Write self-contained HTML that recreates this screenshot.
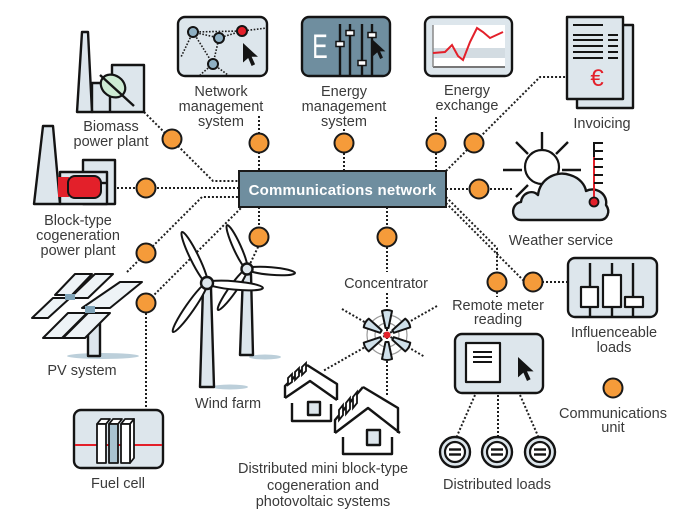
<!DOCTYPE html>
<html><head><meta charset="utf-8">
<style>
html,body{margin:0;padding:0;background:#fff;}
svg{display:block;}
text{font-family:"Liberation Sans",sans-serif;font-size:14.5px;fill:#3a3a3a;text-anchor:middle;}
.dot{stroke:#1e1e1e;stroke-width:2;stroke-dasharray:2 2;fill:none;}
.ln{stroke:#141414;stroke-width:2.4;fill:none;stroke-linejoin:round;}
.lf{fill:#dde6ec;stroke:#141414;stroke-width:2.4;stroke-linejoin:round;}
.wf{fill:#fff;stroke:#141414;stroke-width:2.2;stroke-linejoin:round;}
.cu{fill:#f59b3a;stroke:#1a1a1a;stroke-width:2;}
</style></head><body>
<svg width="687" height="520" viewBox="0 0 687 520" xmlns="http://www.w3.org/2000/svg">
<defs>
<path id="cur" d="M0,0 L0,17 L4.5,13 L7.5,20 L10.5,18.5 L7.5,12 L13,12 Z"/>
</defs>

<!-- connectors -->
<path class="dot" d="M259,116 V171"/>
<path class="dot" d="M344,129 V171"/>
<path class="dot" d="M436,117 V171"/>
<path class="dot" d="M446,171 L540,77 H566"/>
<path class="dot" d="M446,189 H512"/>
<path class="dot" d="M144,112 L213,181 H239"/>
<path class="dot" d="M117,188 H239"/>
<path class="dot" d="M127,272 L202,197 H239"/>
<path class="dot" d="M146,407 V303 L242,207"/>
<path class="dot" d="M259,207 V245 L249,266"/>
<path class="dot" d="M387,207 V272"/>
<path class="dot" d="M387,293 V397"/>
<path class="dot" d="M342,309 L425,357"/>
<path class="dot" d="M437,306 L323,371"/>
<path class="dot" d="M446,197 L497,248 V297"/>
<path class="dot" d="M446,203 L525,282"/>
<path class="dot" d="M542,282 H567"/>
<path class="dot" d="M475,395 L457,436"/>
<path class="dot" d="M498,395 V436"/>
<path class="dot" d="M520,395 L538,436"/>

<!-- Communications network box -->
<rect x="239" y="171" width="207" height="36" fill="#6f8e9f" stroke="#1a1a1a" stroke-width="2"/>
<text x="342.5" y="195" style="fill:#fff;font-weight:bold;font-size:15px;letter-spacing:0.2px">Communications network</text>

<!-- Network management system -->
<rect x="178" y="17" width="89" height="59" rx="7" class="lf"/>
<g stroke="#1e1e1e" stroke-width="1.6" stroke-dasharray="1.6 1.6" fill="none">
<path d="M193,32 L242,31 L267,28"/>
<path d="M193,32 L181,57"/>
<path d="M193,32 L219,38 L242,31"/>
<path d="M193,32 L213,64 L219,38"/>
<path d="M213,64 L200,75"/>
<path d="M213,64 L228,75"/>
</g>
<g stroke="#141414" stroke-width="2">
<circle cx="193" cy="32" r="5" fill="#8fb0c3"/>
<circle cx="219" cy="38" r="5" fill="#8fb0c3"/>
<circle cx="213" cy="64" r="5" fill="#8fb0c3"/>
<circle cx="242" cy="31" r="5" fill="#e3202a"/>
</g>
<use href="#cur" transform="translate(243,43) scale(1.15)" fill="#141414"/>
<text x="221" y="96">Network</text>
<text x="221" y="111">management</text>
<text x="221" y="126">system</text>

<!-- Energy management system -->
<rect x="302" y="17" width="88" height="59" rx="7" fill="#6f8e9f" stroke="#141414" stroke-width="2.4"/>
<text transform="translate(320,58) scale(0.68,1)" style="fill:#fff;font-size:34px">E</text>
<g stroke="#141414" stroke-width="2.4">
<line x1="340" y1="24" x2="340" y2="76"/>
<line x1="350" y1="24" x2="350" y2="76"/>
<line x1="362" y1="24" x2="362" y2="76"/>
<line x1="372" y1="24" x2="372" y2="76"/>
</g>
<g fill="#fff" stroke="#141414" stroke-width="1.5">
<rect x="336" y="41.5" width="8" height="5"/>
<rect x="346" y="30.5" width="8" height="5"/>
<rect x="358" y="60.5" width="8" height="5"/>
<rect x="368" y="32.5" width="8" height="5"/>
</g>
<use href="#cur" transform="translate(373,40) scale(0.95)" fill="#141414"/>
<text x="344" y="96">Energy</text>
<text x="344" y="111">management</text>
<text x="344" y="126">system</text>

<!-- Energy exchange -->
<rect x="425" y="17" width="87" height="59" rx="7" class="lf"/>
<rect x="433" y="25" width="72" height="42" fill="#fff"/>
<rect x="433" y="48" width="72" height="10" fill="#d3dce2"/>
<line x1="433" y1="67" x2="505" y2="67" stroke="#777" stroke-width="2"/>
<line x1="433" y1="25" x2="433" y2="67" stroke="#888" stroke-width="1.5"/>
<polyline points="433,53 445,52 452,45 458,56 463,60 470,42 477,28 483,32 490,38 503,32" fill="none" stroke="#e3202a" stroke-width="2"/>
<text x="467" y="95">Energy</text>
<text x="467" y="110">exchange</text>

<!-- Invoicing -->
<rect x="577" y="25" width="56" height="83" class="lf"/>
<rect x="567" y="17" width="56" height="82" class="lf"/>
<g stroke="#141414" stroke-width="2">
<line x1="573" y1="25" x2="603" y2="25"/>
<line x1="573" y1="35" x2="603" y2="35"/><line x1="608" y1="35" x2="618" y2="35"/>
<line x1="573" y1="40" x2="603" y2="40"/><line x1="608" y1="40" x2="618" y2="40"/>
<line x1="573" y1="46" x2="603" y2="46"/><line x1="608" y1="46" x2="618" y2="46"/>
<line x1="573" y1="52" x2="603" y2="52"/><line x1="608" y1="52" x2="618" y2="52"/>
<line x1="573" y1="58" x2="603" y2="58"/><line x1="608" y1="58" x2="618" y2="58"/>
</g>
<text x="597" y="86" style="fill:#e3202a;font-size:24px">€</text>
<text x="602" y="128">Invoicing</text>

<!-- Weather service -->
<g stroke="#141414" stroke-width="2.4">
<line x1="542" y1="132" x2="542" y2="149"/>
<line x1="516" y1="142" x2="528" y2="154"/>
<line x1="568" y1="142" x2="556" y2="154"/>
<line x1="503" y1="170" x2="522" y2="170"/>
<line x1="562" y1="170" x2="581" y2="170"/>
<line x1="516" y1="197" x2="528" y2="185"/>
</g>
<circle cx="542" cy="167" r="17" class="wf"/>
<path d="M521,220 C511,220 510,204 521,202 C522,193 532,189 538,195 C540,179 556,170 570,175 C580,178 585,185 586,191 C596,186 608,194 606,205 C611,212 607,220 600,220 Z" class="lf"/>
<line x1="594" y1="142" x2="594" y2="157" stroke="#141414" stroke-width="2"/>
<line x1="594" y1="157" x2="594" y2="199" stroke="#e3202a" stroke-width="2"/>
<g stroke="#141414" stroke-width="2">
<line x1="594" y1="143" x2="603" y2="143"/>
<line x1="594" y1="151" x2="603" y2="151"/>
<line x1="594" y1="159" x2="603" y2="159"/>
<line x1="594" y1="167" x2="603" y2="167"/>
<line x1="594" y1="175" x2="603" y2="175"/>
<line x1="594" y1="183" x2="603" y2="183"/>
</g>
<circle cx="594" cy="202" r="4.5" fill="#e3202a" stroke="#141414" stroke-width="1.8"/>
<text x="561" y="245">Weather service</text>

<!-- Biomass power plant -->
<path d="M92,83 H112 V65 H144 V112 H92 Z" class="lf"/>
<polygon points="82,32 88,32 92,112 77,112" class="lf"/>
<line x1="110" y1="97" x2="110" y2="112" class="ln"/>
<ellipse cx="113" cy="86" rx="13" ry="10.5" transform="rotate(35 113 86)" fill="#cdebd3" stroke="#141414" stroke-width="2.2"/>
<line x1="100" y1="75" x2="134" y2="106" class="ln"/>
<text x="111" y="131">Biomass</text>
<text x="111" y="146">power plant</text>

<!-- Block-type cogeneration -->
<rect x="83" y="160" width="32" height="44" class="lf"/>
<rect x="60" y="172" width="47" height="32" class="lf"/>
<polygon points="43,126 53,126 60,204 34,204" class="lf"/>
<rect x="58" y="177" width="11" height="20" fill="#e3202a"/>
<rect x="68" y="176" width="33" height="22" rx="7" fill="#e3202a" stroke="#141414" stroke-width="2"/>
<line x1="101" y1="183" x2="107" y2="183" class="ln"/>
<text x="78" y="225">Block-type</text>
<text x="78" y="240">cogeneration</text>
<text x="78" y="255">power plant</text>

<!-- PV system -->
<ellipse cx="103" cy="356" rx="36" ry="3" fill="#bccfda"/>
<rect x="88" y="322" width="12" height="34" class="lf"/>
<g fill="#eef3f6" stroke="#141414" stroke-width="2" stroke-linejoin="round">
<polygon points="55,295 75,274 92,274 72,295"/>
<polygon points="70,298 95,274 113,274 88,298"/>
<polygon points="32,318 53,298 70,298 48,318"/>
<polygon points="82,308 120,282 142,282 110,308"/>
<polygon points="43,338 68,313 87,313 62,338"/>
<polygon points="63,338 88,313 110,313 85,338"/>
</g>
<rect x="65" y="294" width="10" height="6" fill="#7fa3b7"/>
<rect x="85" y="306" width="10" height="7" fill="#7fa3b7"/>
<text x="82" y="375">PV system</text>

<!-- Wind farm -->
<ellipse cx="265" cy="357" rx="16" ry="2.5" fill="#bccfda"/>
<ellipse cx="230" cy="387" rx="18" ry="2.5" fill="#bccfda"/>
<polygon points="243,274 251,274 253,355 240,355" class="lf"/>
<g fill="#fff" stroke="#141414" stroke-width="2">
<ellipse cx="237" cy="247" rx="24" ry="3.8" transform="rotate(65.6 237 247)"/>
<ellipse cx="271" cy="271" rx="24" ry="3.8" transform="rotate(4.8 271 271)"/>
<ellipse cx="232.5" cy="289.5" rx="25" ry="3.8" transform="rotate(125.3 232.5 289.5)"/>
</g>
<circle cx="247" cy="269" r="5.5" class="lf" stroke-width="2"/>
<polygon points="203,288 211,288 214,387 200,387" class="lf"/>
<g fill="#fff" stroke="#141414" stroke-width="2">
<ellipse cx="194.5" cy="257.5" rx="28.4" ry="4.2" transform="rotate(63.9 194.5 257.5)"/>
<ellipse cx="235" cy="285.5" rx="28" ry="4.2" transform="rotate(5.1 235 285.5)"/>
<ellipse cx="190" cy="307.5" rx="29.8" ry="4.2" transform="rotate(124.8 190 307.5)"/>
</g>
<circle cx="207" cy="283" r="6" class="lf" stroke-width="2"/>
<text x="228" y="408">Wind farm</text>

<!-- Fuel cell -->
<rect x="74" y="410" width="89" height="58" rx="7" class="lf"/>
<line x1="75" y1="445" x2="162" y2="445" stroke="#e3202a" stroke-width="2"/>
<g stroke="#141414" stroke-width="1.8" stroke-linejoin="round">
<polygon points="97,424 101,419 110,419 106,424" fill="#fff"/>
<polygon points="109,424 113,419 122,419 118,424" fill="#fff"/>
<polygon points="121,424 125,419 134,419 130,424" fill="#fff"/>
<polygon points="130,424 134,419 134,458 130,463" fill="#fff"/>
<rect x="97" y="424" width="9" height="39" fill="#fff"/>
<rect x="109" y="424" width="9" height="39" fill="#a9c3d1"/>
<rect x="121" y="424" width="9" height="39" fill="#fff"/>
</g>
<text x="118" y="488">Fuel cell</text>

<!-- Concentrator -->
<circle cx="387" cy="335" r="20" fill="none" stroke="#9a9a9a" stroke-width="1.2"/>
<circle cx="387" cy="335" r="12" fill="none" stroke="#9a9a9a" stroke-width="1.2"/>
<g fill="#cfe0ea" stroke="#141414" stroke-width="2" stroke-linejoin="round">
<path d="M7,-1.5 L24,-5 Q26,0 24,5 L7,1.5 Z" transform="translate(387,335) rotate(-90)"/>
<path d="M7,-1.5 L24,-5 Q26,0 24,5 L7,1.5 Z" transform="translate(387,335) rotate(90)"/>
<path d="M7,-1.5 L24,-5 Q26,0 24,5 L7,1.5 Z" transform="translate(387,335) rotate(-30)"/>
<path d="M7,-1.5 L24,-5 Q26,0 24,5 L7,1.5 Z" transform="translate(387,335) rotate(30)"/>
<path d="M7,-1.5 L24,-5 Q26,0 24,5 L7,1.5 Z" transform="translate(387,335) rotate(150)"/>
<path d="M7,-1.5 L24,-5 Q26,0 24,5 L7,1.5 Z" transform="translate(387,335) rotate(210)"/>
</g>
<circle cx="387" cy="335" r="3.5" fill="#e3202a"/>
<text x="386" y="288">Concentrator</text>

<!-- Houses -->
<g class="ln">
<path d="M307,365 L337,384 V400"/>
<path d="M285,398 L310,381 L337,400"/>
<path d="M285,398 V386 L307,365"/>
<path d="M292,403 V421 H331 V404"/>
</g>
<rect x="308" y="402" width="12" height="13" class="lf" stroke-width="2.2"/>
<g fill="#fff" stroke="#141414" stroke-width="1.8">
<polygon points="288,385 288,378 292,374 292,382"/>
<polygon points="295,380 295,372 299,368 299,376"/>
<polygon points="302,375 302,367 306,363 306,371"/>
</g>
<g class="ln">
<path d="M363,387 L398,408 V433"/>
<path d="M335,433 L368,408 L400,433"/>
<path d="M335,433 V420 L363,387"/>
<path d="M343,437 V454 H392 V437"/>
</g>
<rect x="367" y="430" width="13" height="15" class="lf" stroke-width="2.2"/>
<g fill="#fff" stroke="#141414" stroke-width="1.8">
<polygon points="339,420 339,410 343,405 343,415"/>
<polygon points="346,414 346,403 350,398 350,409"/>
<polygon points="353,408 353,397 357,392 357,403"/>
</g>
<text x="323" y="473">Distributed mini block-type</text>
<text x="323" y="490">cogeneration and</text>
<text x="323" y="506">photovoltaic systems</text>

<!-- Remote meter reading -->
<text x="498" y="310">Remote meter</text>
<text x="498" y="324">reading</text>
<rect x="455" y="334" width="88" height="59" rx="7" class="lf"/>
<rect x="466" y="343" width="34" height="39" class="wf" stroke-width="2.4"/>
<g stroke="#141414" stroke-width="2">
<line x1="473" y1="352" x2="492" y2="352"/>
<line x1="473" y1="357" x2="492" y2="357"/>
<line x1="473" y1="362" x2="492" y2="362"/>
</g>
<use href="#cur" transform="translate(518,357) scale(1.2)" fill="#141414"/>

<!-- Distributed loads -->
<g>
<circle cx="455" cy="452" r="15" class="lf" stroke-width="2.5"/>
<circle cx="455" cy="452" r="10" class="wf"/>
<circle cx="497" cy="452" r="15" class="lf" stroke-width="2.5"/>
<circle cx="497" cy="452" r="10" class="wf"/>
<circle cx="540" cy="452" r="15" class="lf" stroke-width="2.5"/>
<circle cx="540" cy="452" r="10" class="wf"/>
</g>
<g stroke="#141414" stroke-width="2.4">
<line x1="449" y1="449.5" x2="461" y2="449.5"/><line x1="449" y1="454.5" x2="461" y2="454.5"/>
<line x1="491" y1="449.5" x2="503" y2="449.5"/><line x1="491" y1="454.5" x2="503" y2="454.5"/>
<line x1="534" y1="449.5" x2="546" y2="449.5"/><line x1="534" y1="454.5" x2="546" y2="454.5"/>
</g>
<text x="497" y="489">Distributed loads</text>

<!-- Influenceable loads -->
<rect x="568" y="258" width="89" height="59" rx="7" class="lf"/>
<g stroke="#141414" stroke-width="2.4">
<line x1="590" y1="263" x2="590" y2="317"/>
<line x1="612" y1="263" x2="612" y2="317"/>
<line x1="633" y1="263" x2="633" y2="317"/>
</g>
<rect x="581" y="287" width="17" height="20" class="wf" stroke-width="2.4"/>
<rect x="603" y="275" width="18" height="32" class="wf" stroke-width="2.4"/>
<rect x="625" y="297" width="18" height="10" class="wf" stroke-width="2.4"/>
<text x="614" y="337">Influenceable</text>
<text x="614" y="352">loads</text>

<!-- Communications units -->
<circle cx="172" cy="139" r="9.5" class="cu"/>
<circle cx="259" cy="143" r="9.5" class="cu"/>
<circle cx="344" cy="143" r="9.5" class="cu"/>
<circle cx="436" cy="143" r="9.5" class="cu"/>
<circle cx="474" cy="143" r="9.5" class="cu"/>
<circle cx="146" cy="188" r="9.5" class="cu"/>
<circle cx="479" cy="189" r="9.5" class="cu"/>
<circle cx="146" cy="253" r="9.5" class="cu"/>
<circle cx="146" cy="303" r="9.5" class="cu"/>
<circle cx="259" cy="237" r="9.5" class="cu"/>
<circle cx="387" cy="237" r="9.5" class="cu"/>
<circle cx="497" cy="282" r="9.5" class="cu"/>
<circle cx="533" cy="282" r="9.5" class="cu"/>
<circle cx="613" cy="388" r="9.5" class="cu"/>
<text x="613" y="418">Communications</text>
<text x="613" y="432">unit</text>
</svg>
</body></html>
